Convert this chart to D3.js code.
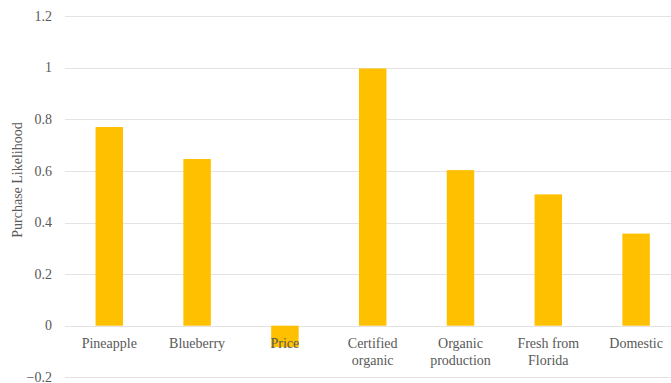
<!DOCTYPE html>
<html><head><meta charset="utf-8">
<script src="https://cdn.jsdelivr.net/npm/d3@7"></script>
<style>body{margin:0;background:#fff}svg{display:block}
svg text{font-family:"Times New Roman",Tinos,serif;}</style>
</head><body>
<script>
const categories = [["Pineapple"],["Blueberry"],["Price"],["Certified","organic"],["Organic","production"],["Fresh from","Florida"],["Domestic"]];
const values = [0.77, 0.646, -0.083, 0.997, 0.603, 0.509, 0.357];
const yTicks = [-0.2, 0, 0.2, 0.4, 0.6, 0.8, 1, 1.2];
const yTitle = "Purchase Likelihood";

const W = 671, H = 383;
const svg = d3.select("body").append("svg").attr("width", W).attr("height", H);
const keys = categories.map((c,i)=>i);
const x = d3.scaleBand().domain(keys).range([65.4, 680]).paddingInner(0.687).paddingOuter(0.3435);
const y = d3.scaleLinear().domain([-0.2, 1.2]).range([377.3, 16.1]);

// gridlines
svg.append("g").selectAll("line").data(yTicks).join("line")
  .attr("x1", 65).attr("x2", W)
  .attr("y1", d=>Math.round(y(d))+0.5).attr("y2", d=>Math.round(y(d))+0.5)
  .attr("stroke", "#e3e3e3").attr("stroke-width", 1);

// y tick labels
svg.append("g").selectAll("text").data(yTicks).join("text")
  .attr("x", 52).attr("y", d=>y(d)).attr("dy", "0.33em")
  .attr("text-anchor", "end").attr("font-size", 14)
  .attr("fill", "#595959").text(d=>d3.format("")(d));

// bars
svg.append("g").selectAll("rect").data(values).join("rect")
  .attr("x", (d,i)=>x(i)).attr("width", x.bandwidth())
  .attr("y", d=>y(Math.max(0,d))).attr("height", d=>Math.abs(y(d)-y(0)))
  .attr("fill", "#FFC000");

// category labels
const lab = svg.append("g").selectAll("text").data(categories).join("text")
  .attr("x", (d,i)=>x(i)+x.bandwidth()/2).attr("y", 348)
  .attr("text-anchor", "middle").attr("font-size", 14)
  .attr("fill", "#595959");
lab.selectAll("tspan").data(d=>d).join("tspan")
  .attr("x", function(){ return d3.select(this.parentNode).attr("x"); })
  .attr("dy", (d,i)=>i===0?0:17).text(d=>d);

// y title
svg.append("text").attr("transform", "rotate(-90)")
  .attr("x", -180).attr("y", 22).attr("text-anchor", "middle")
  .attr("font-size", 14).attr("fill", "#595959")
  .text(yTitle);
</script>
</body></html>
